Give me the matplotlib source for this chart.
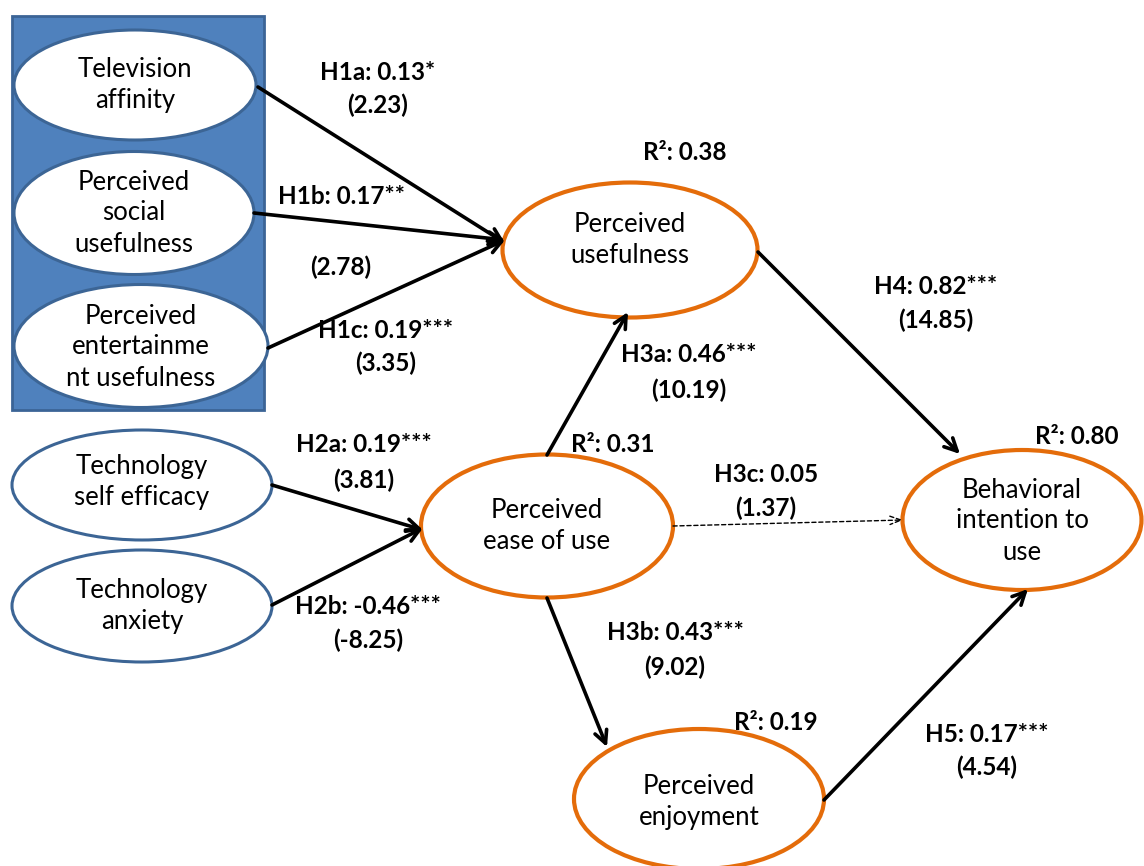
import matplotlib
matplotlib.use("Agg")
import matplotlib.pyplot as plt
from matplotlib.patches import Ellipse, Rectangle

W, H = 1144, 866
FONT = ["Lato", "DejaVu Sans"]

# ---- data ----
node_names = ["TA", "PSU", "PEU", "TSE", "TAX", "PU", "PEOU", "BI", "PE"]
node_labels = ["Television\naffinity", "Perceived\nsocial\nusefulness",
               "Perceived\nentertainme\nnt usefulness", "Technology\nself efficacy",
               "Technology\nanxiety", "Perceived\nusefulness", "Perceived\nease of use",
               "Behavioral\nintention to\nuse", "Perceived\nenjoyment"]
node_kind = ["ext", "ext", "ext", "ext", "ext", "tam", "tam", "tam", "tam"]

path_from = ["TA", "PSU", "PEU", "TSE", "TAX", "PEOU", "PEOU", "PU", "PE", "PEOU"]
path_to = ["PU", "PU", "PU", "PEOU", "PEOU", "PU", "PE", "BI", "BI", "BI"]
path_names = ["H1a", "H1b", "H1c", "H2a", "H2b", "H3a", "H3b", "H4", "H5", "H3c"]
path_coef = ["0.13*", "0.17**", "0.19***", "0.19***", "-0.46***", "0.46***",
             "0.43***", "0.82***", "0.17***", "0.05"]
path_t = ["2.23", "2.78", "3.35", "3.81", "-8.25", "10.19", "9.02", "14.85", "4.54", "1.37"]
path_sig = [True, True, True, True, True, True, True, True, True, False]

r2_nodes = ["PU", "PEOU", "PE", "BI"]
r2_values = ["0.38", "0.31", "0.19", "0.80"]

# ---- layout (pixel coordinates) ----
centers = {"TA": (135, 85), "PSU": (134, 213), "PEU": (141, 346), "TSE": (142, 485),
           "TAX": (142, 606), "PU": (630, 250), "PEOU": (547, 526), "BI": (1022, 520),
           "PE": (699, 799)}
sizes = {"TA": (242, 110), "PSU": (240, 123), "PEU": (254, 123), "TSE": (260, 110),
         "TAX": (260, 112), "PU": (255, 135), "PEOU": (252, 143), "BI": (239, 140),
         "PE": (250, 140)}
text_dy = {"TA": 0, "PSU": 0, "PEU": 1, "TSE": -3, "TAX": 0, "PU": -10, "PEOU": 0,
           "BI": 1, "PE": 3}
arrow_pts = {"H1a": ((258, 87), (505, 243)), "H1b": ((254, 213), (505, 240)),
             "H1c": ((268, 348), (505, 240)), "H2a": ((272, 485), (423, 530)),
             "H2b": ((272, 605), (423, 528)), "H3a": ((547, 455), (628, 312)),
             "H3b": ((547, 598), (607, 747)), "H4": ((758, 252), (960, 454)),
             "H5": ((824, 800), (1028, 589)), "H3c": ((673, 526), (903, 520))}
label_pos = {"H1a": [(378, 72), (378, 105)], "H1b": [(341, 196), (341, 267)],
             "H1c": [(386, 330), (386, 363)], "H2a": [(364, 445), (364, 480)],
             "H2b": [(368, 606), (368, 640)], "H3a": [(689, 355), (689, 390)],
             "H3b": [(675, 633), (675, 667)], "H4": [(936, 287), (936, 320)],
             "H5": [(987, 734), (987, 767)], "H3c": [(766, 475), (766, 508)]}
r2_pos = {"PU": (685, 152), "PEOU": (613, 445), "PE": (776, 722), "BI": (1077, 436)}

fig = plt.figure(figsize=(W / 100, H / 100), dpi=100)
ax = fig.add_axes([0, 0, 1, 1])
ax.set_xlim(0, W)
ax.set_ylim(H, 0)
ax.axis("off")

ax.add_patch(Rectangle((12, 16), 252, 394, facecolor="#4F81BD", edgecolor="#3B6496",
                       lw=2, zorder=1))

for name, lab, kind in zip(node_names, node_labels, node_kind):
    cx, cy = centers[name]
    w, h = sizes[name]
    ec = "#3C6595" if kind == "ext" else "#E46C0A"
    lw = 2.2 if kind == "ext" else 3.0
    ax.add_patch(Ellipse((cx, cy), w, h, facecolor="white", edgecolor=ec, lw=lw, zorder=2))
    ax.text(cx, cy + text_dy[name], lab, ha="center", va="center", fontsize=18.5,
            family=FONT, linespacing=1.3, zorder=3)

for nm, sig in zip(path_names, path_sig):
    (x0, y0), (x1, y1) = arrow_pts[nm]
    if sig:
        props = dict(arrowstyle="->,head_length=0.9,head_width=0.45", lw=2.6, color="black",
                     shrinkA=0, shrinkB=0)
    else:
        props = dict(arrowstyle="->,head_length=0.8,head_width=0.3", lw=1.0, color="black",
                     linestyle=(0, (3, 2)), shrinkA=0, shrinkB=0)
    ax.annotate("", xy=(x1, y1), xytext=(x0, y0), arrowprops=props, zorder=4)

for nm, coef, t in zip(path_names, path_coef, path_t):
    (lx, ly), (tx, ty) = label_pos[nm]
    ax.text(lx, ly, f"{nm}: {coef}", ha="center", va="center", fontsize=17.5,
            fontweight="bold", family=FONT, zorder=5)
    ax.text(tx, ty, f"({t})", ha="center", va="center", fontsize=17.5,
            fontweight="bold", family=FONT, zorder=5)

for nd, v in zip(r2_nodes, r2_values):
    x, y = r2_pos[nd]
    ax.text(x, y, f"R\u00b2: {v}", ha="center", va="center", fontsize=17.5,
            fontweight="bold", family=FONT, zorder=5)

fig.savefig("out.png", dpi=100)
